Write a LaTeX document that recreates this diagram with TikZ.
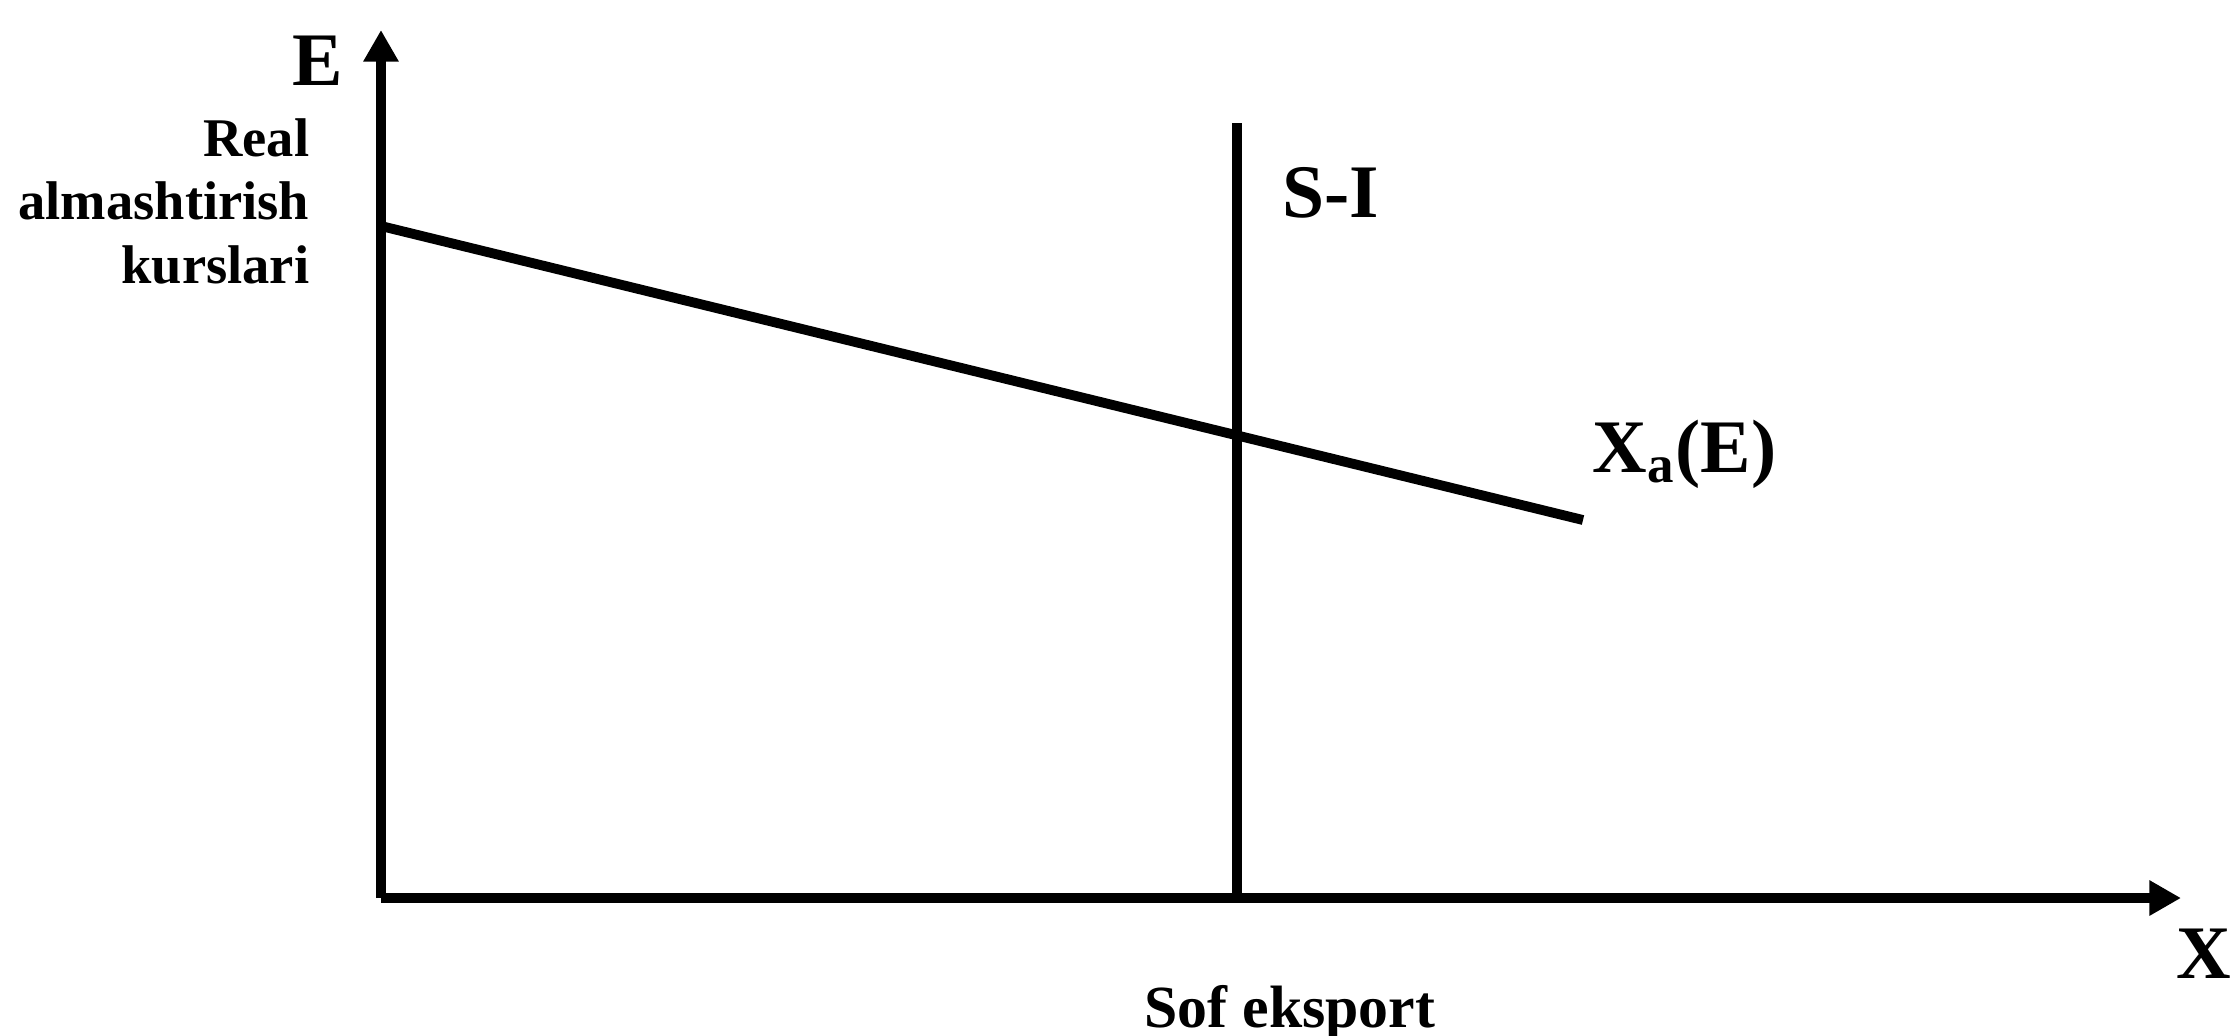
\documentclass[tikz,border=0pt]{standalone}
\usepackage{fontspec}
\setmainfont{Liberation Serif}
\usetikzlibrary{arrows.meta}
\tikzset{
  axis/.style     = {line width=2.8pt, -{Triangle[length=9pt,width=9.5pt]}},
  curve/.style    = {line width=2.8pt},
  biglbl/.style   = {font=\bfseries\fontsize{21.5}{24}\selectfont, inner sep=0pt},
  smalllbl/.style = {font=\bfseries\fontsize{15.5}{18}\selectfont, inner sep=0pt},
}

\begin{document}
\begin{tikzpicture}[x=0.01cm,y=-0.01cm]
\useasboundingbox (0,0) rectangle (2235,1035);
% axes
\coordinate (O) at (381,898);
\coordinate (Etop) at (381,30);
\coordinate (Xend) at (2181,898);
\draw[axis] (O) -- (Etop);
\draw[axis] (O) -- (Xend);
% S-I and export curve
\coordinate (SItop) at (1237,123);
\coordinate (SIbot) at (1237,898);
\draw[curve] (SIbot) -- (SItop);
\coordinate (Xa1) at (381,226);
\coordinate (Xa2) at (1583,520);
\draw[curve] (Xa1) -- (Xa2);
% labels
\node[biglbl, anchor=base] (Elbl) at (318,85) {E};
\node[smalllbl, anchor=north east, align=right] (Elong) at (310,118) {Real\\almashtirish\\kurslari};
\node[biglbl, anchor=base west] (SIlbl) at (1282,217) {S-I};
\node[biglbl, anchor=base west] (Xalbl) at (1592,472) {X\textsubscript{a}(E)};
\node[font=\bfseries\fontsize{17}{20}\selectfont, inner sep=0pt, anchor=base] (Xlong) at (1290,1027) {Sof eksport};
\node[biglbl, anchor=base east] (Xlbl) at (2232,978) {X};
\end{tikzpicture}
\end{document}
